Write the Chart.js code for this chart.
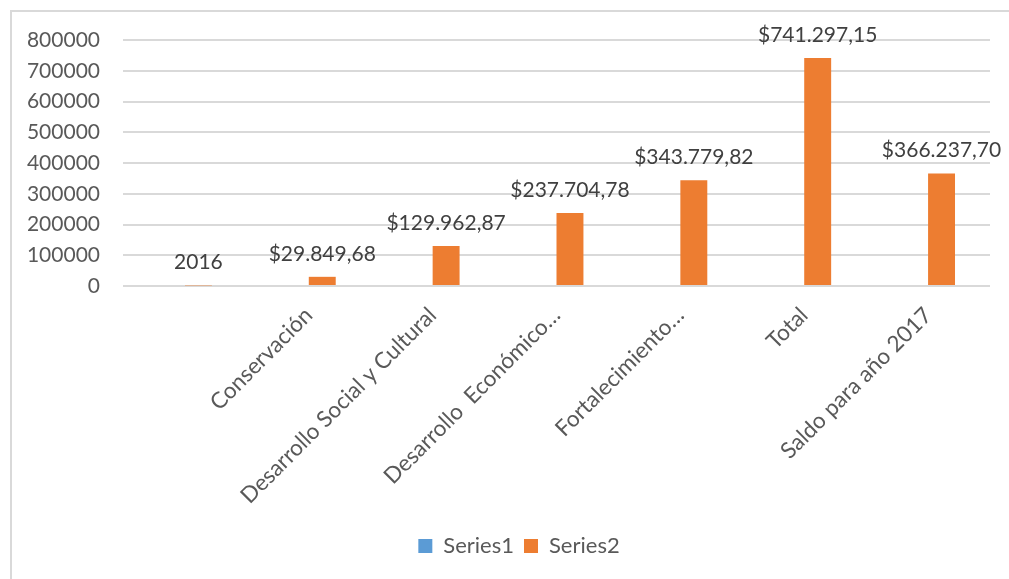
<!DOCTYPE html>
<html>
<head>
<meta charset="utf-8">
<title>Series chart</title>
<script src="https://cdn.jsdelivr.net/npm/chart.js@4/dist/chart.umd.min.js"></script>
<style>
html, body {
  margin: 0;
  padding: 0;
  background: #fff;
  overflow: hidden;
}
.frame {
  position: absolute;
  left: 10px;
  top: 10px;
  width: 1100px;
  height: 700px;
  border-left: 2px solid #d9d9d9;
  border-top: 2px solid #d9d9d9;
}
.box {
  position: absolute;
  left: 12px;
  top: 12px;
  width: 997px;
  height: 567px;
}
</style>
</head>
<body>
<div class="frame"></div>
<div class="box"><canvas id="chart"></canvas></div>
<script>
// categories (first one has no label in the original sheet)
const categories = ['', 'Conservación', 'Desarrollo Social y Cultural', 'Desarrollo  Económico…',
  'Fortalecimiento…', 'Total', 'Saldo para año 2017'];
const series1 = [null, null, null, null, null, null, null];
const series2 = [2016, 29849.68, 129962.87, 237704.78, 343779.82, 741297.15, 366237.70];
const yTicks = [0, 100000, 200000, 300000, 400000, 500000, 600000, 700000, 800000];

const FONT = 'Lato';
const GREY = '#595959';

function money(v, i) {
  if (i === 0) return String(v);
  const parts = v.toFixed(2).split('.');
  return '$' + parts[0].replace(/\B(?=(\d{3})+(?!\d))/g, '.') + ',' + parts[1];
}

// value labels above the orange bars
const valueLabels = {
  id: 'valueLabels',
  afterDatasetsDraw(chart) {
    const ctx = chart.ctx;
    const meta = chart.getDatasetMeta(1);
    ctx.save();
    ctx.font = '21px ' + FONT;
    ctx.fillStyle = '#404040';
    ctx.textAlign = 'center';
    ctx.textBaseline = 'alphabetic';
    meta.data.forEach((bar, i) => {
      const v = series2[i];
      if (v == null) return;
      ctx.fillText(money(v, i), bar.x, bar.y - 16);
    });
    ctx.restore();
  }
};

// excel centres the legend on the whole (wider) chart, nudge it right a bit
const legendShift = {
  id: 'legendShift',
  afterLayout(chart) {
    chart.legend.left += 18;
    chart.legend.right += 18;
  }
};

new Chart(document.getElementById('chart'), {
  type: 'bar',
  data: {
    labels: categories,
    datasets: [
      { label: 'Series1', data: series1, backgroundColor: '#5B9BD5' },
      { label: 'Series2', data: series2, backgroundColor: '#ED7D31' }
    ]
  },
  options: {
    responsive: true,
    maintainAspectRatio: false,
    animation: false,
    categoryPercentage: 0.435,
    barPercentage: 1.0,
    layout: { padding: { top: 28, right: 19, bottom: 12, left: 0 } },
    plugins: {
      tooltip: { enabled: false },
      legend: {
        position: 'bottom',
        labels: {
          boxWidth: 14,
          boxHeight: 14,
          padding: 10,
          color: GREY,
          font: { family: FONT, size: 22 }
        }
      }
    },
    scales: {
      x: {
        grid: { display: false },
        border: { display: false },
        ticks: {
          autoSkip: false,
          minRotation: 45,
          maxRotation: 45,
          padding: 8,
          color: GREY,
          font: { family: FONT, size: 22.5 }
        },
        afterFit(scale) { scale.height = 239; }
      },
      y: {
        min: 0,
        max: 800000,
        afterBuildTicks(scale) { scale.ticks = yTicks.map(v => ({ value: v })); },
        grid: { color: '#d9d9d9', lineWidth: 2, drawTicks: false },
        border: { display: false },
        ticks: {
          padding: 23,
          color: GREY,
          font: { family: FONT, size: 21 },
          callback: v => String(v)
        },
        afterFit(scale) {
          scale.width = 111;
          scale.paddingTop = 0;
          scale.paddingBottom = 0;
        }
      }
    }
  },
  plugins: [valueLabels, legendShift]
});
</script>
</body>
</html>
